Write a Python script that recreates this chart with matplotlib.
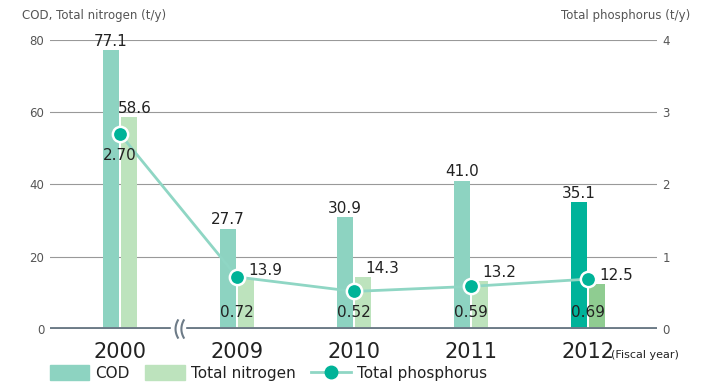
import numpy as np
import matplotlib.pyplot as plt
from matplotlib.lines import Line2D
from matplotlib.patches import Patch

years = ['2000', '2009', '2010', '2011', '2012']
cod = [77.1, 27.7, 30.9, 41.0, 35.1]
tn = [58.6, 13.9, 14.3, 13.2, 12.5]
tp = [2.70, 0.72, 0.52, 0.59, 0.69]

cod_col = ['#8dd3c1'] * 4 + ['#00b39a']
tn_col = ['#bde3bd'] * 4 + ['#8fcc91']
tp_col = '#00b398'
line_col = '#8fd6c4'
txt = '#222222'
grey = '#555555'

fig = plt.figure(figsize=(7.13, 3.85), dpi=100)
ax = fig.add_axes([50/713, 1-329/385, 607/713, 289/385])
ax2 = ax.twinx()

x = np.arange(len(years))
w = 0.137
off = 0.077

ax.bar(x - off, cod, w, color=cod_col, zorder=2)
ax.bar(x + off, tn, w, color=tn_col, zorder=2)

ax.set_xlim(-0.598, 4.59)
ax.set_ylim(0, 80)
ax2.set_ylim(0, 4)
ax.set_yticks([0, 20, 40, 60, 80])
ax2.set_yticks([0, 1, 2, 3, 4])
for a in (ax, ax2):
    for s in a.spines.values():
        s.set_visible(False)
    a.tick_params(axis='y', length=0, labelsize=8.5, labelcolor=grey, pad=4)
ax.set_xticks([])
ax.grid(axis='y', color='#999999', lw=0.8, zorder=0)
ax.axhline(0, color='#6d7b87', lw=2.8, zorder=3)

# line + markers on the right axis
ax2.plot(x, tp, color=line_col, lw=2, zorder=4)
ax2.plot(x, tp, 'o', ms=11, mfc=tp_col, mec='white', mew=1.8, zorder=5)

# value labels
for i in range(len(years)):
    ax.text(x[i] - off, cod[i] + 0.4, f'{cod[i]:.1f}', ha='center', va='bottom',
            fontsize=11, color=txt, zorder=6)
    if i == 0:
        ax.text(x[i] + off + 0.05, tn[i] + 0.4, f'{tn[i]:.1f}', ha='center', va='bottom',
                fontsize=11, color=txt, zorder=6)
        ax2.text(x[i], tp[i] - 0.2, f'{tp[i]:.2f}', ha='center', va='top',
                 fontsize=11, color=txt, zorder=6)
    else:
        ax.text(x[i] + 0.1, tn[i] + 0.3, f'{tn[i]:.1f}', ha='left', va='bottom',
                fontsize=11, color=txt, zorder=6)
        ax2.text(x[i], 0.12, f'{tp[i]:.2f}', ha='center', va='bottom',
                 fontsize=11, color=txt, zorder=6)

# axis break
bx = 0.5
ax.add_patch(plt.Rectangle((bx - 0.06, -1.5), 0.12, 3, color='white', zorder=4,
                           clip_on=False))
t = np.linspace(-1, 1, 30)
for dx in (-0.025, 0.025):
    ax.plot(bx + dx + 0.02 * t**2, 2.4 * t, color='#6d7b87', lw=1.5, zorder=5,
            clip_on=False)

# year labels
for i, y in enumerate(years):
    ax.text(x[i], -7.9, y, ha='center', va='baseline', fontsize=15, color=txt)
ax.text(x[-1] + 0.2, -7.9, '(Fiscal year)', ha='left', va='baseline', fontsize=8, color=txt)

fig.text(22/713, 1-15/385, 'COD, Total nitrogen (t/y)', fontsize=8.5, color=grey,
         ha='left', va='center')
fig.text(690/713, 1-15/385, 'Total phosphorus (t/y)', fontsize=8.5, color=grey,
         ha='right', va='center')

handles = [Patch(color=cod_col[0]), Patch(color=tn_col[0]),
           Line2D([], [], color=line_col, lw=2, marker='o', ms=9, mfc=tp_col, mec=tp_col)]
fig.legend(handles, ['COD', 'Total nitrogen', 'Total phosphorus'], loc='center left',
           bbox_to_anchor=(36/713, 1-373/385), ncol=3, frameon=False, fontsize=11,
           handlelength=2.6, handleheight=1.1, handletextpad=0.4, columnspacing=1.0,
           labelcolor=txt)

fig.savefig('out.png', dpi=100)
